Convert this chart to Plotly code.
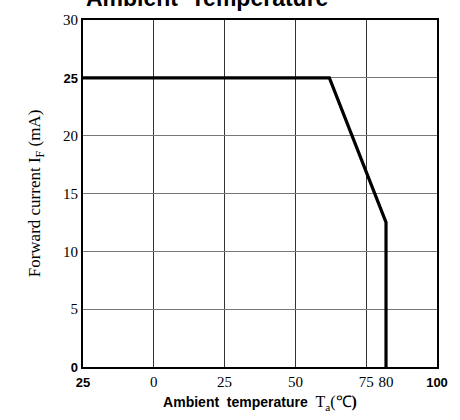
import plotly.graph_objects as go

# Derating curve
TEMP = [-25, 62, 82, 82]
CURRENT = [25, 25, 12.5, 0]

X_TICKS = [-25, 0, 25, 50, 75, 82, 100]
X_TICK_TEXT = ["25", "0", "25", "50", "75", "80", "100"]
X_GRID = [0, 25, 50, 75]
Y_TICKS = [0, 5, 10, 15, 20, 25, 30]
Y_TICK_TEXT = ["0", "5", "10", "15", "20", "25", "30"]
BOLD_LABELS_Y = {"0", "25"}

SERIF = "Liberation Serif"
SANS = "Liberation Sans"


def bold_sans(t, size=13):
    return f"<b><span style='font-family:{SANS};font-size:{size}px'>{t}</span></b>"


x_text = []
for i, t in enumerate(X_TICK_TEXT):
    if i == 0 or t == "100":
        x_text.append(bold_sans(t))
    else:
        x_text.append(t)
y_text = [bold_sans(t) if t in BOLD_LABELS_Y else t for t in Y_TICK_TEXT]

fig = go.Figure()
fig.add_trace(go.Scatter(x=TEMP, y=CURRENT, mode="lines",
                         line=dict(color="black", width=3.2), showlegend=False,
                         cliponaxis=False))

fig.update_layout(
    width=460, height=420,
    margin=dict(l=83, r=22, t=14, b=50),
    paper_bgcolor="white", plot_bgcolor="white",
    font=dict(family=SERIF, color="black", size=15),
    xaxis=dict(range=[-25, 100], tickvals=X_TICKS, ticktext=x_text,
               showgrid=False,
               minor=dict(tickvals=X_GRID, showgrid=True, gridcolor="#333", gridwidth=1, ticks=""),
               showline=True, linecolor="black", linewidth=2, mirror=True,
               ticks="", zeroline=False, tickfont=dict(family=SERIF, size=15),
               title=dict(text=f"<b><span style='font-family:{SANS};font-size:14px'>Ambient  temperature</span></b>  "
                               f"T<sub>a</sub>(℃<b>)</b>",
                          font=dict(family=SERIF, size=16), standoff=7)),
    yaxis=dict(range=[0, 30], tickvals=Y_TICKS, ticktext=y_text,
               showgrid=True, gridcolor="#777", gridwidth=1,
               showline=True, linecolor="black", linewidth=2, mirror=True,
               ticks="", zeroline=False, tickfont=dict(family=SERIF, size=15),
               title=dict(text="Forward current I<sub>F</sub> (mA)",
                          font=dict(family=SERIF, size=17), standoff=18)),
)

fig.add_annotation(text="<b>Ambient  Temperature</b>", xref="paper", yref="paper",
                   x=0.35, y=1.0, yshift=7, xanchor="center", yanchor="bottom",
                   showarrow=False, font=dict(family=SANS, size=23, color="black"))

fig.write_html("out.html")
